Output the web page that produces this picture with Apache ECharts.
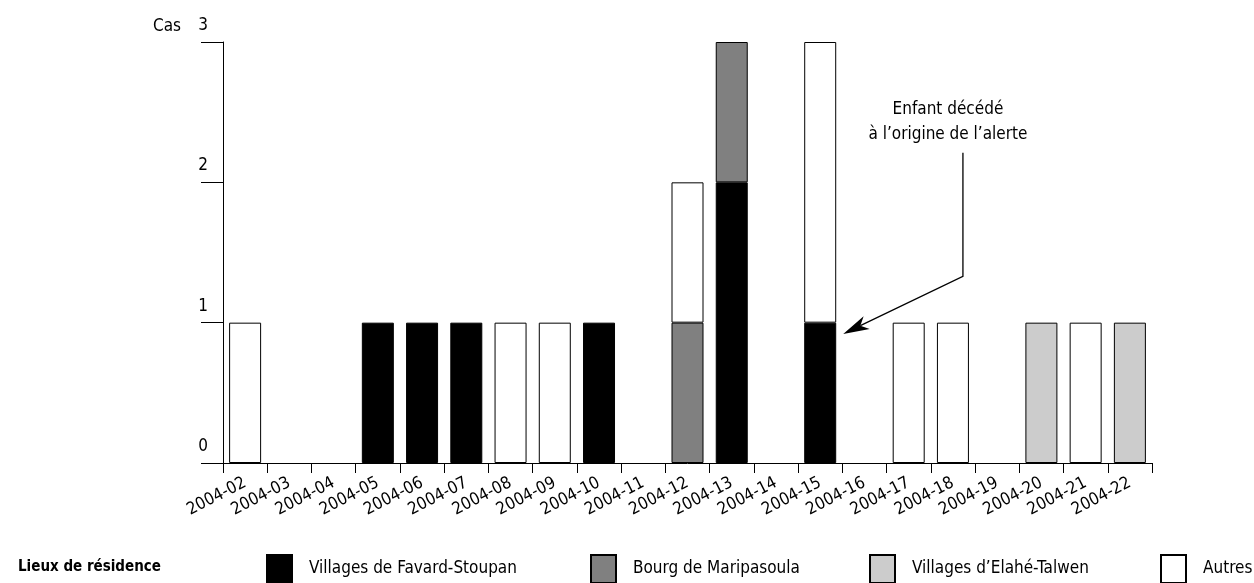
<!DOCTYPE html>
<html><head><meta charset="utf-8">
<script src="https://cdn.jsdelivr.net/npm/echarts@6/dist/echarts.min.js"></script>
<style>html,body{margin:0;padding:0;background:#fff}#c{width:1254px;height:583px}</style>
</head><body><div id="c"></div>
<script>
const weeks = ['2004-02','2004-03','2004-04','2004-05','2004-06','2004-07','2004-08','2004-09','2004-10','2004-11','2004-12','2004-13','2004-14','2004-15','2004-16','2004-17','2004-18','2004-19','2004-20','2004-21','2004-22'];
const favard  = [0,0,0,1,1,1,0,0,1,0,0,2,0,1,0,0,0,0,0,0,0];
const bourg   = [0,0,0,0,0,0,0,0,0,0,1,1,0,0,0,0,0,0,0,0,0];
const elahe   = [0,0,0,0,0,0,0,0,0,0,0,0,0,0,0,0,0,0,1,0,1];
const autres  = [1,0,0,0,0,0,1,1,0,0,1,0,0,2,0,1,1,0,0,1,0];
const seriesNames = ['Villages de Favard-Stoupan','Bourg de Maripasoula','Villages d\u2019Elahé-Talwen','Autres'];
const yTicks = [0,1,2,3];
const annotationText = 'Enfant décédé\nà l\u2019origine de l\u2019alerte';

const FONT = "'DejaVu Sans Condensed','DejaVu Sans',sans-serif";
const colors = ['#000000','#808080','#cccccc','#ffffff'];
const seriesData = [favard, bourg, elahe, autres];

const chart = echarts.init(document.getElementById('c'), null, {renderer:'canvas'});

const series = seriesData.map((arr,i)=>({
  name: seriesNames[i], type:'bar', stack:'total', barWidth:32,
  data: arr.map(v=> v===0 ? '-' : v),
  itemStyle:{color:colors[i], borderColor:'#000', borderWidth:1},
  emphasis:{disabled:true}, animation:false
}));

const legendLefts = [266, 590, 869, 1160];
const legends = seriesNames.map((n,i)=>({
  data:[n], left:legendLefts[i], top:554, padding:0, icon:'rect', itemWidth:25, itemHeight:28,
  selectedMode:false,
  textStyle:{fontFamily:FONT, fontSize:17, color:'#000', padding:[0,0,0,12]}
}));

chart.setOption({
  animation:false,
  textStyle:{fontFamily:FONT},
  title:{text:'Lieux de résidence', left:18, top:560, padding:0,
    textStyle:{fontFamily:FONT, fontSize:15, fontWeight:'bold', color:'#000'}},
  legend: legends,
  grid:{left:223, right:102, top:42, bottom:120, containLabel:false},
  xAxis:{type:'category', data:weeks, boundaryGap:true,
    axisLine:{lineStyle:{color:'#000', width:1}},
    axisTick:{show:true, length:10, alignWithLabel:false, lineStyle:{color:'#000'}},
    axisLabel:{rotate:27, interval:0, fontFamily:FONT, fontSize:17, color:'#000', margin:19}},
  yAxis:{type:'value', min:0, max:3, interval:1,
    name:'Cas', nameLocation:'end', nameGap:15,
    nameTextStyle:{fontFamily:FONT, fontSize:17, color:'#000', align:'right', verticalAlign:'middle', padding:[0,42,0,0]},
    splitLine:{show:false},
    axisLine:{show:true, lineStyle:{color:'#000', width:1}},
    axisTick:{show:true, length:22, lineStyle:{color:'#000'}},
    axisLabel:{fontFamily:FONT, fontSize:17, color:'#000', align:'center', verticalAlign:'bottom', margin:20, padding:[0,0,8,0],
      formatter:v=> yTicks.includes(v) ? String(v) : ''}},
  series: series
});

// Annotation anchored in data space
const tipP = chart.convertToPixel({gridIndex:0}, ['2004-15', 0.92]);
const elbowP = chart.convertToPixel({gridIndex:0}, ['2004-18', 1.33]);
const topP = chart.convertToPixel({gridIndex:0}, ['2004-18', 2.21]);
const textP = chart.convertToPixel({gridIndex:0}, ['2004-18', 2.605]);
const tip = [tipP[0] + 16 + 7, tipP[1]];
const elbow = [elbowP[0] + 10, elbowP[1]];
const top0 = [elbow[0], topP[1]];
const dx = tip[0]-elbow[0], dy = tip[1]-elbow[1];
const L = Math.hypot(dx,dy); const ux = dx/L, uy = dy/L; const px = -uy, py = ux;
const AL = 26, AW = 7, AN = 19;
const base = [tip[0]-ux*AL, tip[1]-uy*AL];
const notch = [tip[0]-ux*AN, tip[1]-uy*AN];
const head = [tip, [base[0]+px*AW, base[1]+py*AW], notch, [base[0]-px*AW, base[1]-py*AW]];
chart.setOption({graphic:[
  {type:'polyline', shape:{points:[top0, elbow, notch]}, style:{stroke:'#000', lineWidth:1.3, fill:null}},
  {type:'polygon', shape:{points:head}, style:{fill:'#000'}},
  {type:'text', x:textP[0]-5, y:textP[1], style:{text:annotationText, fontFamily:FONT, fontSize:17, fill:'#000', align:'center', verticalAlign:'top', lineHeight:25}}
]});
</script></body></html>
